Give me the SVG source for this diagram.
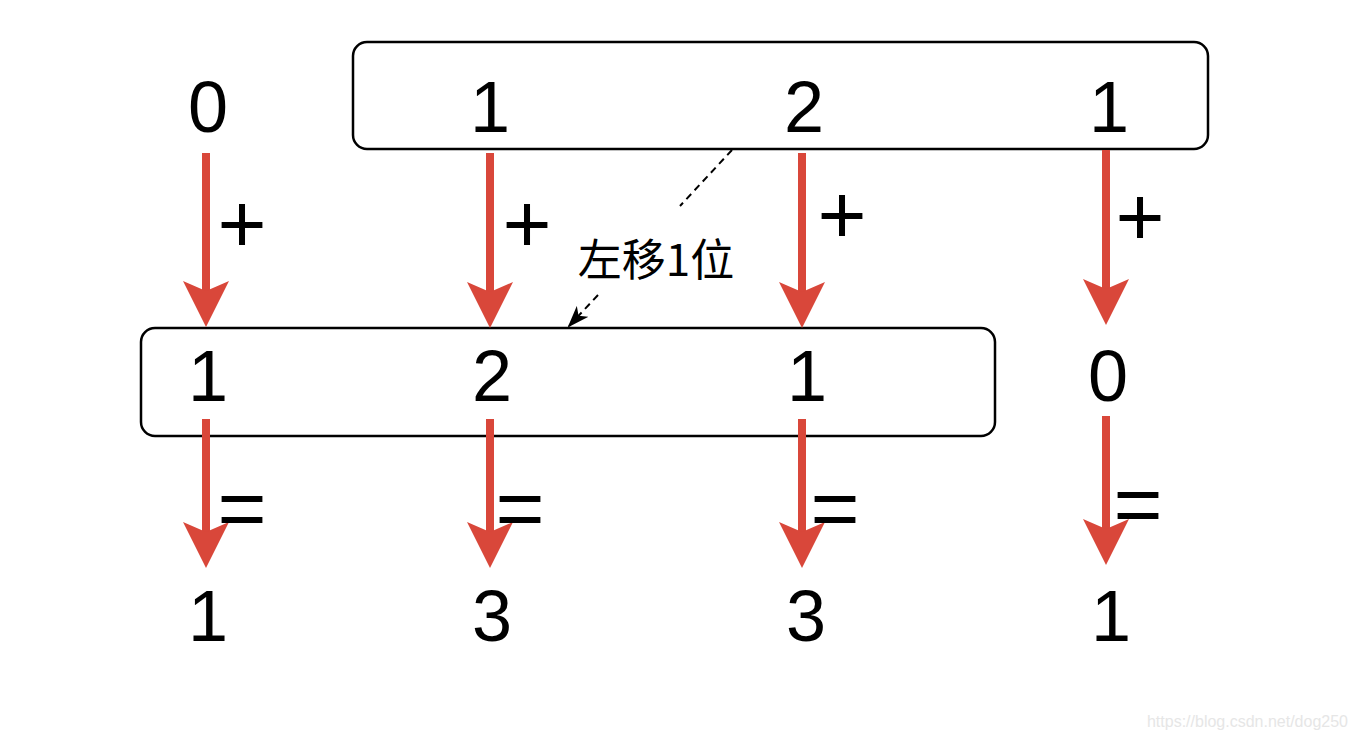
<svg xmlns="http://www.w3.org/2000/svg" width="1356" height="740" viewBox="0 0 1356 740">
<defs>
<style>
.box{fill:#fff;stroke:#000;stroke-width:2.5}
.num{font-family:"Liberation Sans",Arial,sans-serif;font-size:72px;fill:#000;text-anchor:middle}
.op{font-family:"Liberation Sans",Arial,sans-serif;font-size:84px;fill:#000;text-anchor:middle}
.red{stroke:#d9473a;stroke-width:8;fill:none}
.dash{stroke:#000;stroke-width:2;stroke-dasharray:7 5;fill:none}
.lbl{font-family:"Noto Sans CJK SC","Liberation Sans",sans-serif;font-size:44px;fill:#000;text-anchor:middle}
.wm{font-family:"Liberation Sans",Arial,sans-serif;font-size:16px;fill:#e6e6e6;text-anchor:end}
</style>
<marker id="rh" markerUnits="userSpaceOnUse" viewBox="0 0 46 46" markerWidth="46" markerHeight="46" refX="16" refY="23" orient="auto">
<path d="M46,23 L0,0 L10,23 L0,46 Z" fill="#d9473a"/>
</marker>
<marker id="bh" markerUnits="userSpaceOnUse" viewBox="0 0 22 16" markerWidth="22" markerHeight="16" refX="20" refY="8" orient="auto">
<path d="M22,8 L0,0 L6,8 L0,16 Z" fill="#000"/>
</marker>
</defs>
<rect width="1356" height="740" fill="#fff"/>
<g id="topBox"><rect class="box" x="353" y="42" width="855" height="107" rx="14"/></g>
<g id="bottomBox"><rect class="box" x="141" y="328" width="854" height="108" rx="14"/></g>
<g id="connectors">
<path class="red" d="M206,153 V297" marker-end="url(#rh)"/>
<path class="red" d="M490,153 V298" marker-end="url(#rh)"/>
<path class="red" d="M802,153 V298" marker-end="url(#rh)"/>
<path class="red" d="M1106,150 V295" marker-end="url(#rh)"/>
<path class="red" d="M206,419 V538" marker-end="url(#rh)"/>
<path class="red" d="M490,419 V538" marker-end="url(#rh)"/>
<path class="red" d="M802,419 V538" marker-end="url(#rh)"/>
<path class="red" d="M1106,416 V535" marker-end="url(#rh)"/>
<path class="dash" d="M732,150 L680,206"/>
<path class="dash" d="M598,295 L569,326" marker-end="url(#bh)"/>
</g>
<g id="topRow">
<text class="num" x="208" y="132">0</text>
<text class="num" x="490" y="132">1</text>
<text class="num" x="804" y="132">2</text>
<text class="num" x="1109" y="132">1</text>
</g>
<g id="midRow">
<text class="num" x="208" y="401">1</text>
<text class="num" x="492" y="401">2</text>
<text class="num" x="807" y="401">1</text>
<text class="num" x="1108" y="401">0</text>
</g>
<g id="resultRow">
<text class="num" x="208" y="641">1</text>
<text class="num" x="492" y="641">3</text>
<text class="num" x="806" y="641">3</text>
<text class="num" x="1111" y="641">1</text>
</g>
<g id="ops">
<text class="op" x="242" y="252">+</text>
<text class="op" x="527" y="252">+</text>
<text class="op" x="842" y="243">+</text>
<text class="op" x="1140" y="245">+</text>
<text class="op" x="242" y="537">=</text>
<text class="op" x="520" y="537">=</text>
<text class="op" x="835" y="537">=</text>
<text class="op" x="1138" y="533">=</text>
</g>
<g id="shiftLabel"><text class="lbl" x="656" y="276">左移1位</text></g>
<text class="wm" x="1348" y="727">https://blog.csdn.net/dog250</text>
</svg>
